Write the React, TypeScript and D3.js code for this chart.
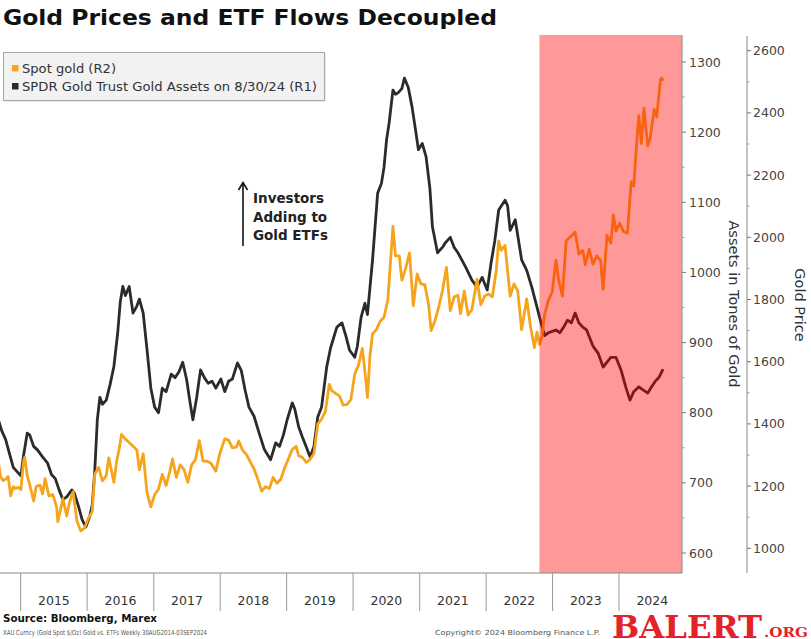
import React from "react";
import * as d3 from "d3";

const spotGold: [string, number][] = [
  ["2014-08-29",1287],["2014-09-12",1231],["2014-09-26",1218],["2014-10-10",1222],["2014-10-24",1231],["2014-11-07",1169],["2014-11-21",1198],["2014-12-05",1192],["2014-12-19",1196],["2015-01-02",1189],["2015-01-16",1277],["2015-01-23",1293],["2015-02-06",1234],["2015-02-20",1204],["2015-03-13",1152],["2015-03-27",1199],["2015-04-17",1203],["2015-05-01",1175],["2015-05-15",1224],["2015-06-05",1168],["2015-06-26",1173],["2015-07-17",1133],["2015-07-24",1086],["2015-08-21",1160],["2015-09-11",1104],["2015-09-25",1145],["2015-10-16",1182],["2015-11-06",1088],["2015-11-27",1056],["2015-12-18",1065],
  ["2016-01-08",1097],["2016-01-29",1118],["2016-02-12",1239],["2016-03-04",1260],["2016-03-25",1217],["2016-04-15",1234],["2016-04-29",1291],["2016-05-27",1212],["2016-06-10",1276],["2016-06-24",1316],["2016-07-08",1366],["2016-07-29",1351],["2016-08-19",1340],["2016-09-09",1328],["2016-09-30",1316],["2016-10-14",1252],["2016-11-04",1304],["2016-11-25",1179],["2016-12-16",1133],
  ["2017-01-06",1173],["2017-01-27",1190],["2017-02-17",1238],["2017-03-10",1202],["2017-03-31",1249],["2017-04-14",1287],["2017-05-05",1228],["2017-05-26",1268],["2017-06-16",1254],["2017-07-07",1212],["2017-07-28",1268],["2017-08-18",1285],["2017-09-08",1346],["2017-09-29",1280],["2017-10-20",1280],["2017-11-10",1274],["2017-12-08",1248],["2017-12-29",1303],
  ["2018-01-26",1352],["2018-02-16",1348],["2018-03-09",1323],["2018-03-30",1325],["2018-04-13",1345],["2018-05-04",1315],["2018-05-25",1302],["2018-06-15",1278],["2018-07-06",1255],["2018-07-27",1222],["2018-08-17",1184],["2018-09-07",1198],["2018-09-28",1192],["2018-10-19",1228],["2018-11-09",1209],["2018-11-30",1222],["2018-12-21",1258],
  ["2019-01-11",1288],["2019-02-01",1318],["2019-02-22",1328],["2019-03-08",1298],["2019-03-29",1292],["2019-04-19",1276],["2019-05-10",1286],["2019-05-31",1305],["2019-06-21",1400],["2019-07-12",1415],["2019-08-02",1440],["2019-08-23",1527],["2019-09-06",1507],["2019-09-27",1498],["2019-10-18",1490],["2019-11-08",1460],["2019-11-29",1463],["2019-12-20",1478],
  ["2020-01-10",1560],["2020-01-31",1589],["2020-02-21",1643],["2020-03-13",1530],["2020-03-20",1485],["2020-04-03",1620],["2020-04-17",1690],["2020-05-08",1703],["2020-05-29",1730],["2020-06-19",1743],["2020-07-10",1798],["2020-07-31",1975],["2020-08-07",2035],["2020-08-21",1940],["2020-09-11",1940],["2020-09-25",1862],["2020-10-16",1900],["2020-11-06",1950],["2020-11-27",1780],["2020-12-18",1882],
  ["2021-01-08",1850],["2021-01-29",1848],["2021-02-19",1783],["2021-03-05",1700],["2021-03-26",1732],["2021-04-16",1777],["2021-05-07",1831],["2021-05-28",1903],["2021-06-18",1764],["2021-07-09",1808],["2021-07-30",1814],["2021-08-13",1754],["2021-09-03",1827],["2021-09-24",1750],["2021-10-15",1768],["2021-11-12",1865],["2021-12-03",1783],["2021-12-24",1811],
  ["2022-01-14",1818],["2022-02-04",1808],["2022-02-25",1889],["2022-03-11",1988],["2022-03-25",1958],["2022-04-15",1974],["2022-05-13",1811],["2022-06-03",1850],["2022-06-24",1827],["2022-07-15",1703],["2022-08-12",1802],["2022-09-02",1712],["2022-09-23",1645],["2022-10-07",1695],["2022-10-21",1656],["2022-11-04",1682],["2022-11-18",1751],["2022-12-09",1797],["2022-12-30",1824],
  ["2023-01-20",1926],["2023-02-03",1865],["2023-02-24",1811],["2023-03-17",1989],["2023-04-14",2004],["2023-05-05",2017],["2023-05-26",1946],["2023-06-16",1958],["2023-06-30",1912],["2023-07-21",1962],["2023-08-11",1914],["2023-09-01",1940],["2023-09-22",1925],["2023-10-06",1833],["2023-10-27",2006],["2023-11-17",1981],["2023-12-01",2072],["2023-12-15",2020],
  ["2024-01-05",2045],["2024-01-26",2018],["2024-02-16",2013],["2024-03-08",2178],["2024-03-22",2165],["2024-04-12",2344],["2024-04-19",2391],["2024-05-03",2301],["2024-05-17",2415],["2024-06-07",2293],["2024-06-21",2321],["2024-07-12",2411],["2024-07-26",2387],["2024-08-16",2507],["2024-08-23",2512],["2024-08-30",2503]
];

const spdrAssets: [string, number][] = [
  ["2014-08-29",792],["2014-09-19",774],["2014-10-10",762],["2014-10-31",742],["2014-11-21",722],["2014-12-12",716],["2015-01-02",710],["2015-01-16",738],["2015-02-06",771],["2015-02-20",768],["2015-03-13",752],["2015-04-03",747],["2015-05-01",737],["2015-05-29",728],["2015-06-19",712],["2015-07-10",706],["2015-07-31",690],["2015-08-21",676],["2015-09-11",680],["2015-10-09",690],["2015-10-23",685],["2015-11-13",668],["2015-12-04",648],["2015-12-25",637],
  ["2016-01-15",652],["2016-01-29",668],["2016-02-12",718],["2016-02-26",790],["2016-03-11",822],["2016-03-25",812],["2016-04-15",818],["2016-05-06",840],["2016-05-27",866],["2016-06-17",914],["2016-07-01",958],["2016-07-15",980],["2016-07-29",967],["2016-08-19",980],["2016-09-09",942],["2016-09-30",952],["2016-10-14",962],["2016-11-04",942],["2016-11-25",890],["2016-12-16",835],
  ["2017-01-06",808],["2017-01-27",800],["2017-02-17",835],["2017-03-10",830],["2017-04-07",855],["2017-04-28",850],["2017-05-19",858],["2017-06-09",872],["2017-06-30",848],["2017-07-21",812],["2017-08-04",790],["2017-08-25",822],["2017-09-15",861],["2017-10-06",850],["2017-10-27",842],["2017-11-17",845],["2017-12-08",835],
  ["2018-01-05",848],["2018-01-26",830],["2018-02-16",845],["2018-03-09",848],["2018-04-06",871],["2018-04-27",860],["2018-05-18",832],["2018-06-08",808],["2018-07-06",795],["2018-08-03",771],["2018-08-31",748],["2018-10-05",733],["2018-11-02",757],["2018-11-23",752],["2018-12-14",768],
  ["2019-01-04",790],["2019-02-01",814],["2019-02-15",805],["2019-03-08",780],["2019-03-29",765],["2019-04-19",751],["2019-05-10",737],["2019-05-31",752],["2019-06-21",794],["2019-07-12",808],["2019-08-09",865],["2019-08-30",892],["2019-09-13",904],["2019-10-04",922],["2019-11-01",928],["2019-11-22",910],["2019-12-13",889],
  ["2020-01-10",879],["2020-01-24",894],["2020-02-14",936],["2020-03-06",956],["2020-03-20",940],["2020-04-17",1018],["2020-05-15",1113],["2020-06-05",1127],["2020-06-19",1150],["2020-07-03",1189],["2020-07-17",1213],["2020-08-07",1260],["2020-08-21",1254],["2020-09-04",1256],["2020-09-25",1262],["2020-10-09",1277],["2020-10-30",1264],["2020-11-20",1236],["2020-12-11",1200],["2020-12-25",1175],
  ["2021-01-15",1184],["2021-02-05",1165],["2021-02-26",1120],["2021-03-12",1065],["2021-04-09",1028],["2021-05-07",1036],["2021-05-21",1042],["2021-06-18",1050],["2021-07-09",1036],["2021-07-30",1028],["2021-09-10",1008],["2021-10-15",989],["2021-11-12",979],["2021-12-10",993],
  ["2022-01-07",975],["2022-01-28",1013],["2022-02-18",1046],["2022-03-11",1089],["2022-04-15",1103],["2022-04-29",1095],["2022-05-13",1060],["2022-06-10",1075],["2022-07-15",1018],["2022-08-12",1003],["2022-09-09",979],["2022-10-07",951],["2022-10-28",930],["2022-11-18",910],["2022-12-09",914],["2022-12-30",916],
  ["2023-01-20",918],["2023-02-10",914],["2023-03-03",922],["2023-03-24",932],["2023-04-14",928],["2023-05-05",942],["2023-05-26",928],["2023-06-16",922],["2023-07-07",918],["2023-08-11",895],["2023-09-08",885],["2023-10-06",865],["2023-10-27",872],["2023-11-17",879],["2023-12-15",879],
  ["2024-01-12",861],["2024-02-09",835],["2024-03-01",818],["2024-03-22",830],["2024-04-19",837],["2024-05-10",833],["2024-06-07",828],["2024-06-28",837],["2024-07-19",845],["2024-08-09",851],["2024-08-30",862]
];

const years = [2015, 2016, 2017, 2018, 2019, 2020, 2021, 2022, 2023, 2024];
const assetTicks = [600, 700, 800, 900, 1000, 1100, 1200, 1300];
const assetMinorTicks = [650, 750, 850, 950, 1050, 1150, 1250];
const goldTicks = [1000, 1200, 1400, 1600, 1800, 2000, 2200, 2400, 2600];
const goldMinorTicks = [1100, 1300, 1500, 1700, 1900, 2100, 2300, 2500];
const highlightStart = "2022-10-21";
const legendItems = [
  { label: "Spot gold (R2)", color: "#f5a41c" },
  { label: "SPDR Gold Trust Gold Assets on 8/30/24 (R1)", color: "#2b2b2b" },
];
const annotationLines = ["Investors", "Adding to", "Gold ETFs"];

const FONT = "'DejaVu Sans', Verdana, sans-serif";

export default function App() {
  const parse = d3.timeParse("%Y-%m-%d");
  const W = 811, H = 639;
  const plot = { left: 0, right: 682, top: 35, bottom: 573 };
  const goldAxisX = 747;

  const x = d3.scaleTime()
    .domain([parse("2015-01-01")!, parse("2024-01-01")!])
    .range([20.7, 619]);
  const yA = d3.scaleLinear().domain([600, 1300]).range([553, 62]);
  const yG = d3.scaleLinear().domain([1000, 2600]).range([548.3, 50.7]);

  const goldLine = d3.line<[string, number]>()
    .x(d => x(parse(d[0])!))
    .y(d => yG(d[1]));
  const assetLine = d3.line<[string, number]>()
    .x(d => x(parse(d[0])!))
    .y(d => yA(d[1]));

  const hx = x(parse(highlightStart)!);

  return (
    <svg width={W} height={H} style={{ position: "absolute", left: 0, top: 0, background: "#fff" }}>
      <defs>
        <clipPath id="plotclip">
          <rect x={plot.left} y={plot.top} width={plot.right - plot.left} height={plot.bottom - plot.top} />
        </clipPath>
      </defs>
      <rect x={0} y={0} width={W} height={H} fill="#fff" />

      {/* Title */}
      <text x={3} y={25} fontFamily={FONT} fontWeight="bold" fontSize={21} fill="#111"
        textLength={494} lengthAdjust="spacingAndGlyphs">Gold Prices and ETF Flows Decoupled</text>

      {/* Lines */}
      <g clipPath="url(#plotclip)">
        <path d={assetLine(spdrAssets) || ""} fill="none" stroke="#2b2b2b" strokeWidth={2.8} strokeLinejoin="round" />
        <path d={goldLine(spotGold) || ""} fill="none" stroke="#f5a41c" strokeWidth={2.8} strokeLinejoin="round" />
        {/* highlight overlay */}
        <rect x={hx} y={plot.top} width={plot.right - hx} height={plot.bottom - plot.top} fill="#ff0000" fillOpacity={0.4} />
      </g>

      {/* Bottom axis */}
      <line x1={plot.left} x2={plot.right} y1={plot.bottom} y2={plot.bottom} stroke="#888" strokeWidth={1} />
      {years.map(yr => {
        const x0 = x(parse(`${yr}-01-01`)!);
        const x1 = x(parse(`${yr + 1}-01-01`)!);
        return (
          <g key={yr}>
            <line x1={x0} x2={x0} y1={plot.bottom} y2={611} stroke="#999" strokeWidth={1} />
            <text x={(x0 + x1) / 2} y={605} textAnchor="middle" fontFamily={FONT} fontSize={12.5} fill="#333">{yr}</text>
          </g>
        );
      })}

      {/* R1 axis (assets) */}
      <line x1={plot.right} x2={plot.right} y1={plot.top} y2={plot.bottom} stroke="#888" strokeWidth={1} />
      {assetTicks.map(t => (
        <g key={t}>
          <line x1={plot.right} x2={plot.right + 4} y1={yA(t)} y2={yA(t)} stroke="#777" />
          <text x={689} y={yA(t) + 4.5} fontFamily={FONT} fontSize={12.5} fill="#444">{t}</text>
        </g>
      ))}
      {assetMinorTicks.map(t => (
        <line key={t} x1={plot.right} x2={plot.right + 2.5} y1={yA(t)} y2={yA(t)} stroke="#999" />
      ))}
      <text transform={`translate(729,304) rotate(90)`} textAnchor="middle" fontFamily={FONT} fontSize={14.5} fill="#333">Assets in Tones of Gold</text>

      {/* R2 axis (gold) */}
      <line x1={goldAxisX} x2={goldAxisX} y1={36} y2={plot.bottom} stroke="#888" strokeWidth={1} />
      {goldTicks.map(t => (
        <g key={t}>
          <line x1={goldAxisX} x2={goldAxisX + 4} y1={yG(t)} y2={yG(t)} stroke="#777" />
          <text x={753} y={yG(t) + 4.5} fontFamily={FONT} fontSize={12.5} fill="#444">{t}</text>
        </g>
      ))}
      {goldMinorTicks.map(t => (
        <line key={t} x1={goldAxisX} x2={goldAxisX + 2.5} y1={yG(t)} y2={yG(t)} stroke="#999" />
      ))}
      <text transform={`translate(795,305) rotate(90)`} textAnchor="middle" fontFamily={FONT} fontSize={14.5} fill="#333">Gold Price</text>

      {/* Legend */}
      <rect x={4.5} y={53.5} width={321} height={48} fill="#d8d8d8" />
      <rect x={3.5} y={52.5} width={321} height={48} fill="#f2f2f2" stroke="#a6a6a6" strokeWidth={1} />
      {legendItems.map((it, i) => (
        <g key={it.label}>
          <rect x={12} y={65 + i * 18} width={6.5} height={6.5} fill={it.color} />
          <text x={22} y={73 + i * 18} fontFamily={FONT} fontSize={12} fill="#333"
            textLength={i === 0 ? 94 : 295} lengthAdjust="spacingAndGlyphs">{it.label}</text>
        </g>
      ))}

      {/* Annotation */}
      <line x1={243} x2={243} y1={246} y2={184} stroke="#111" strokeWidth={1.6} />
      <path d="M238.5,190 L243,182.5 L247.5,190" fill="none" stroke="#111" strokeWidth={1.6} />
      {annotationLines.map((l, i) => (
        <text key={l} x={253} y={203 + i * 18.7} fontFamily={FONT} fontWeight="bold" fontSize={13.5} fill="#222">{l}</text>
      ))}

      {/* Footer */}
      <text x={3} y={622} fontFamily={FONT} fontWeight="bold" fontSize={11} fill="#111"
        textLength={154} lengthAdjust="spacingAndGlyphs">Source: Bloomberg, Marex</text>
      <text x={3} y={635} fontFamily={FONT} fontSize={7} fill="#555"
        textLength={204} lengthAdjust="spacingAndGlyphs">XAU Curncy (Gold Spot  $/Oz) Gold vs.  ETFs  Weekly 30AUG2014-03SEP2024</text>
      <text x={435} y={635} fontFamily={FONT} fontSize={7} fill="#555"
        textLength={165} lengthAdjust="spacingAndGlyphs">Copyright© 2024 Bloomberg Finance L.P.</text>

      {/* Watermark */}
      <text x={612} y={638} fontFamily="'DejaVu Serif', serif" fontWeight="bold" fontSize={32} fill="#e3222a"
        textLength={150} lengthAdjust="spacingAndGlyphs">BALERT</text>
      <text x={764} y={637} fontFamily="'DejaVu Serif', serif" fontWeight="bold" fontSize={13} fill="#e3222a"
        textLength={44} lengthAdjust="spacingAndGlyphs">.ORG</text>
    </svg>
  );
}
